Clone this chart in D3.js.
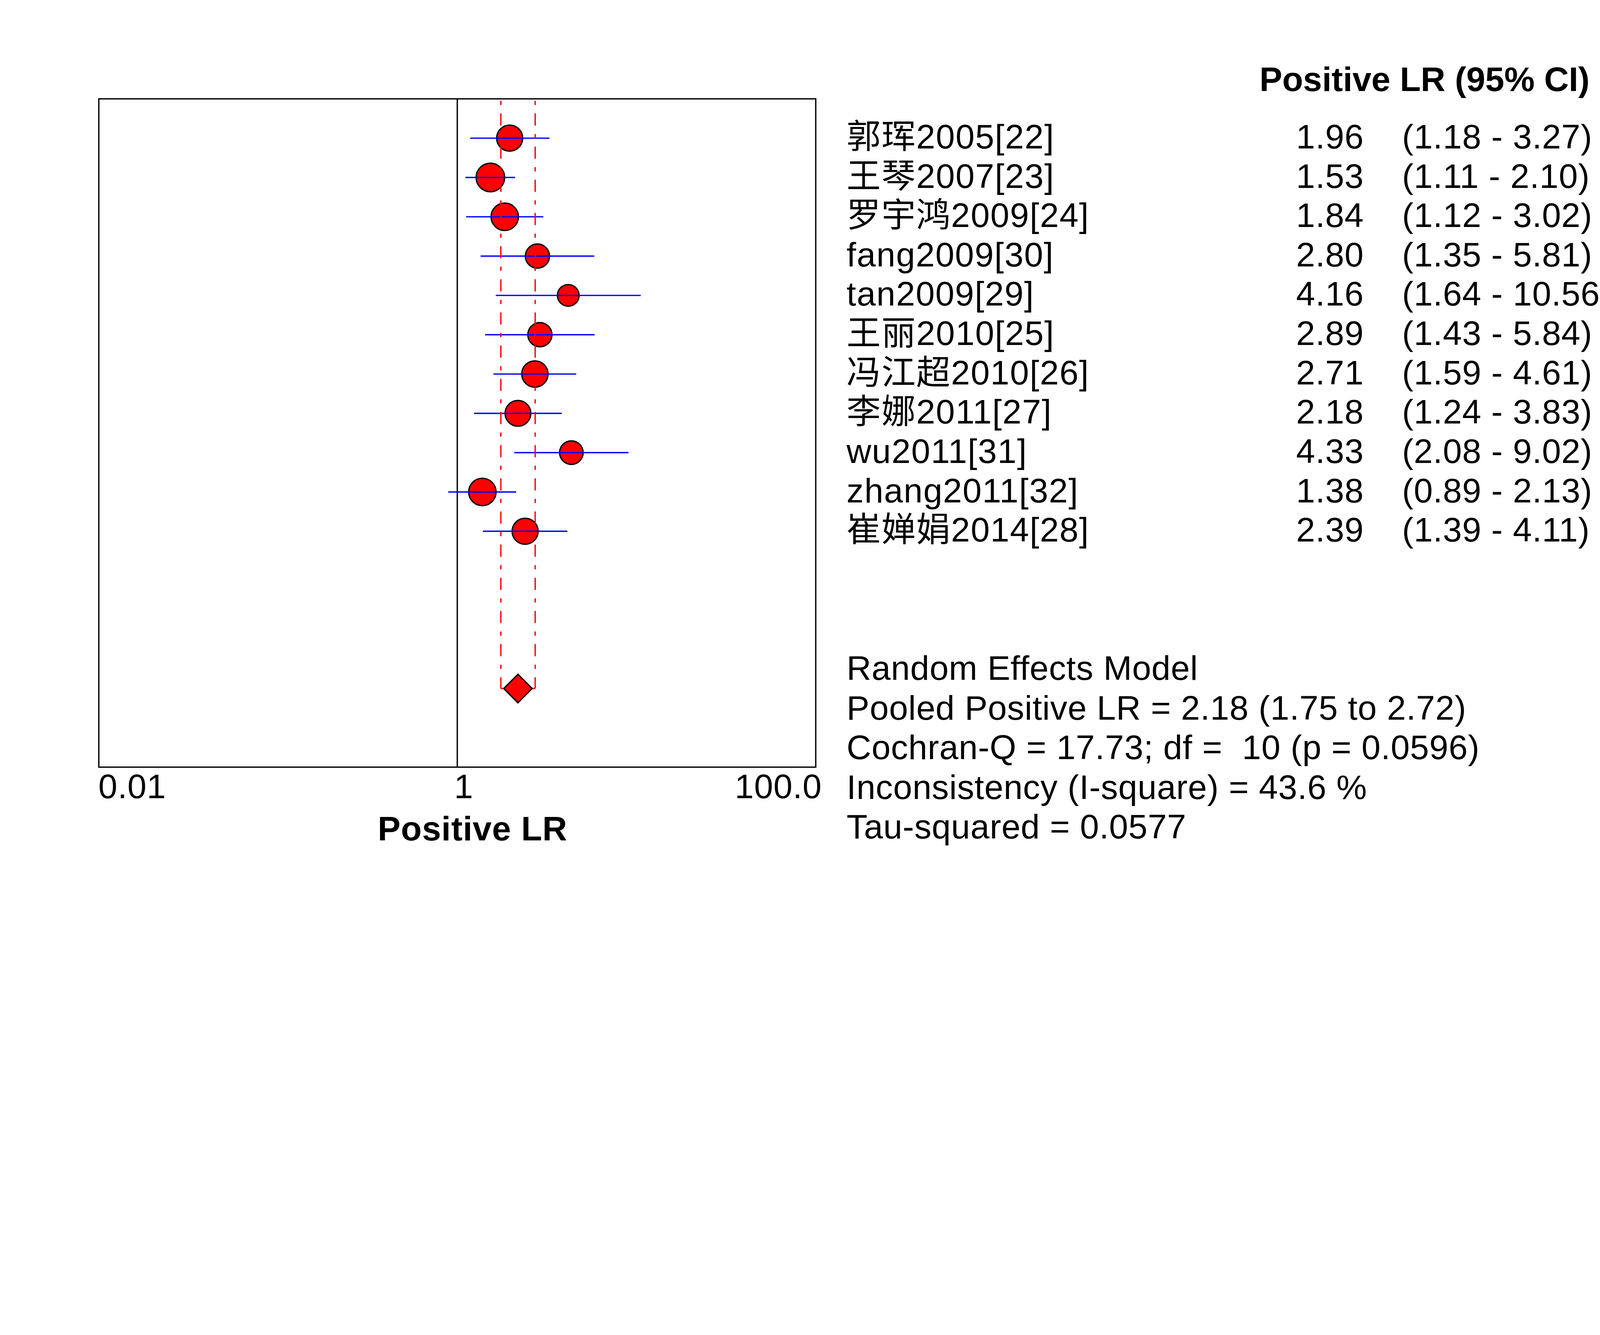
<!DOCTYPE html>
<html>
<head>
<meta charset="utf-8">
<script src="https://cdn.jsdelivr.net/npm/d3@7"></script>
<style>
  html, body { margin: 0; padding: 0; background: #fff; overflow: hidden; width: 100%; height: 100%; }
  svg { display: block; width: 100vw; height: 100vh; }
  text { font-family: "Liberation Sans", Arial, "Noto Sans CJK SC", sans-serif; font-size: 103px; fill: #000; white-space: pre; letter-spacing: 1px; }
</style>
</head>
<body>
<svg id="chart"></svg>
<script>
// study data
const studies = ["郭珲2005[22]", "王琴2007[23]", "罗宇鸿2009[24]", "fang2009[30]", "tan2009[29]",
    "王丽2010[25]", "冯江超2010[26]", "李娜2011[27]", "wu2011[31]", "zhang2011[32]", "崔婵娟2014[28]"];
const lr = [1.96, 1.53, 1.84, 2.80, 4.16, 2.89, 2.71, 2.18, 4.33, 1.38, 2.39];
const lower = [1.18, 1.11, 1.12, 1.35, 1.64, 1.43, 1.59, 1.24, 2.08, 0.89, 1.39];
const upper = [3.27, 2.10, 3.02, 5.81, 10.56, 5.84, 4.61, 3.83, 9.02, 2.13, 4.11];
// relative weights (%)
const weights = [9.4, 11.3, 10.4, 8.1, 6.5, 8.1, 9.6, 9.2, 7.7, 10.4, 9.4];

const pooledEst = 2.18, pooledLow = 1.75, pooledHigh = 2.72;

const tickValues = [0.01, 1, 100];
const tickLabels = ["0.01", "1", "100.0"];

const statLines = ["Random Effects Model",
    "Pooled Positive LR = 2.18 (1.75 to 2.72)",
    "Cochran-Q = 17.73; df =  10 (p = 0.0596)",
    "Inconsistency (I-square) = 43.6 %",
    "Tau-squared = 0.0577"];

let svgWidth = 4825, svgHeight = 3417;
let plotLeft = 298, plotRight = 2460, plotTop = 298, plotBottom = 2313;

// draw in 4825x3417 units and let the viewBox fit it to the window
var svg = d3.select("#chart")
    .attr("viewBox", "0 0 " + svgWidth + " " + svgHeight)
    .attr("preserveAspectRatio", "xMinYMin meet");

var x = d3.scaleLog().domain([0.01, 100]).range([plotLeft, plotRight]);
// rows 1..11 are the studies, row 15 the pooled estimate
var y = d3.scaleLinear().domain([0, 17]).range([plotTop, plotBottom]);
var r = d3.scaleSqrt().domain([0, d3.max(weights)]).range([0, 43]);

// frame and line of no effect
svg.append("rect")
    .attr("x", plotLeft).attr("y", plotTop)
    .attr("width", plotRight - plotLeft).attr("height", plotBottom - plotTop)
    .attr("fill", "none").attr("stroke", "#000").attr("stroke-width", 4);

svg.append("line")
    .attr("x1", x(1)).attr("x2", x(1))
    .attr("y1", plotTop).attr("y2", plotBottom)
    .attr("stroke", "#000").attr("stroke-width", 4);

var idx = d3.range(studies.length);

svg.selectAll("circle.study")
    .data(idx)
    .enter()
    .append("circle")
    .attr("class", "study")
    .attr("cx", i => x(lr[i]))
    .attr("cy", i => y(i + 1))
    .attr("r", i => r(weights[i]))
    .attr("fill", "#ff0000")
    .attr("stroke", "#000")
    .attr("stroke-width", 4);

svg.selectAll("line.ci")
    .data(idx)
    .enter()
    .append("line")
    .attr("class", "ci")
    .attr("x1", i => x(lower[i]))
    .attr("x2", i => x(upper[i]))
    .attr("y1", i => y(i + 1))
    .attr("y2", i => y(i + 1))
    .attr("stroke", "#0000ff")
    .attr("stroke-width", 4);

// pooled CI: dashed verticals down to the diamond
[pooledLow, pooledHigh].forEach(v => {
    svg.append("line")
        .attr("x1", x(v)).attr("x2", x(v))
        .attr("y1", plotTop + 6).attr("y2", y(15))
        .attr("stroke", "#ff0000")
        .attr("stroke-width", 4)
        .attr("stroke-dasharray", "12.7,25.3,36.7,25.3");
});

svg.append("line")
    .attr("x1", x(pooledLow)).attr("x2", x(pooledHigh))
    .attr("y1", y(15)).attr("y2", y(15))
    .attr("stroke", "#ff0000").attr("stroke-width", 4);

svg.append("path")
    .attr("d", d3.symbol(d3.symbolSquare, 3698)())
    .attr("transform", "translate(" + x(pooledEst) + "," + y(15) + ") rotate(45)")
    .attr("fill", "#ff0000")
    .attr("stroke", "#000")
    .attr("stroke-width", 4);

// x axis labels
var axis = d3.axisBottom(x)
    .tickValues(tickValues)
    .tickFormat((d, i) => tickLabels[i])
    .tickSize(0);

var gAxis = svg.append("g")
    .attr("transform", "translate(0,2407)")
    .call(axis);
gAxis.select(".domain").remove();
var tickDx = [-2, -10, 18];
var tickAnchor = ["start", "start", "end"];
gAxis.attr("font-family", null).attr("font-size", null);
gAxis.selectAll(".tick text")
    .attr("y", 0).attr("dy", 0)
    .attr("x", (d, i) => tickDx[i])
    .attr("text-anchor", (d, i) => tickAnchor[i])
    .attr("fill", "#000");

svg.append("text")
    .attr("x", 1425).attr("y", 2534)
    .attr("text-anchor", "middle")
    .attr("font-weight", "bold")
    .text("Positive LR");

// right-hand table
svg.append("text")
    .attr("x", 3798).attr("y", 274)
    .attr("font-weight", "bold")
    .style("letter-spacing", "0px")
    .text("Positive LR (95% CI)");

svg.selectAll("text.name")
    .data(idx)
    .enter()
    .append("text")
    .attr("class", "name")
    .attr("x", 2553)
    .attr("y", i => y(i + 1) + 31)
    .style("letter-spacing", "2px")
    .text(i => studies[i]);

svg.selectAll("text.val")
    .data(idx)
    .enter()
    .append("text")
    .attr("class", "val")
    .attr("x", 4113)
    .attr("y", i => y(i + 1) + 31)
    .attr("text-anchor", "end")
    .text(i => lr[i].toFixed(2));

svg.selectAll("text.cint")
    .data(idx)
    .enter()
    .append("text")
    .attr("class", "cint")
    .attr("x", 4228)
    .attr("y", i => y(i + 1) + 31)
    .text(i => "(" + lower[i].toFixed(2) + " - " + upper[i].toFixed(2) + ")");

svg.selectAll("text.stat")
    .data(statLines)
    .enter()
    .append("text")
    .attr("class", "stat")
    .attr("x", 2553)
    .attr("y", (d, i) => 2050 + i * 119.5)
    .text(d => d);
</script>
</body>
</html>
